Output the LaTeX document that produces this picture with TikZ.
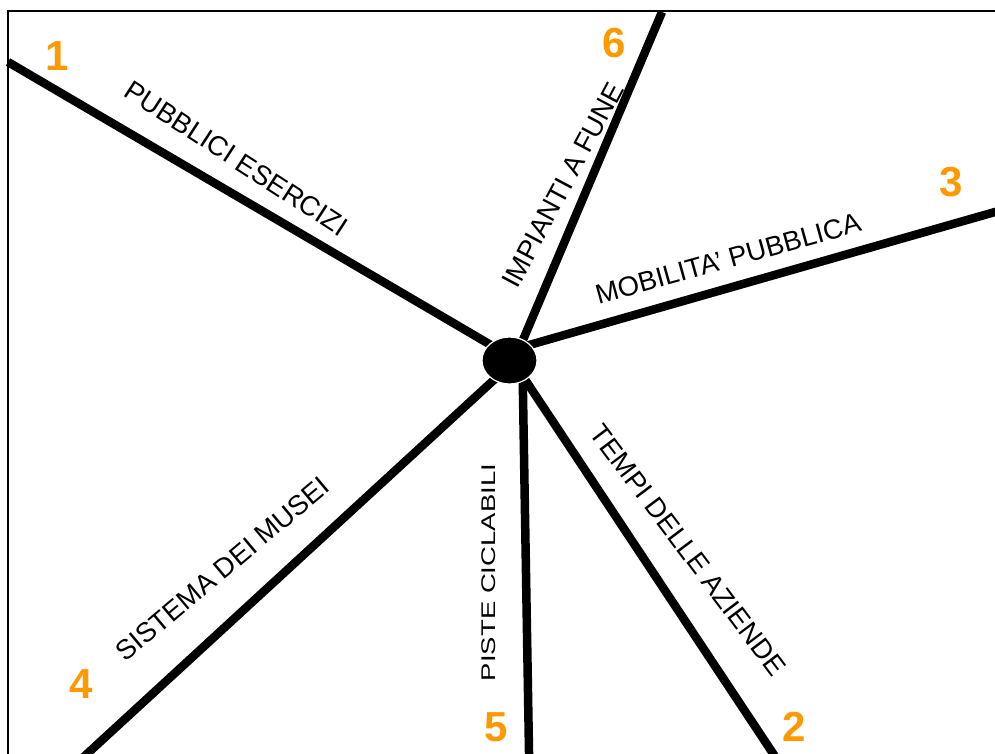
\documentclass[tikz,border=0pt]{standalone}
\usepackage{fontspec}
\setmainfont{Liberation Sans}
\usetikzlibrary{shapes.geometric, backgrounds}
\definecolor{numorange}{HTML}{FF9900}
\begin{document}
\begin{tikzpicture}[x=1pt, y=-1pt,
    spoke/.style={line width=8.5pt, shorten >=-14pt},
    lbl/.style={inner sep=0pt, font=\fontsize{27.5}{30}\selectfont},
    num/.style={inner sep=0pt, text=numorange, font=\fontsize{42}{46}\selectfont\bfseries}]
  \useasboundingbox (0,0) rectangle (995,753);
  \draw[line width=2.5pt] (8,11) rectangle (1010,770);
  \node[ellipse, fill=black, draw=white, line width=1.2pt, minimum width=55pt,
        minimum height=47pt, inner sep=0pt] (hub) at (509.5,360.5) {};
  % outer ends of the spokes
  \coordinate (e1) at (8,62);
  \coordinate (e6) at (662,12);
  \coordinate (e3) at (1010,207.7);
  \coordinate (e4) at (69.5,770);
  \coordinate (e5) at (529.3,770);
  \coordinate (e2) at (784,770);
  \begin{scope}[on background layer]
    \draw[spoke] (e1) -- (hub.141);
    \draw[spoke] (e6) -- (hub.57);
    \draw[spoke] (e3) -- (hub.37);
    \draw[spoke] (e4) -- (hub.-129);
    \draw[spoke] (e2) -- (hub.-51);
    \draw[spoke] (e5) -- (hub.-58);
  \end{scope}
  % labels
  \node[lbl, rotate=-33] (l1) at (236.5,158.5) {PUBBLICI ESERCIZI};
  \node[lbl, rotate=62] (l6) at (563,185) {IMPIANTI A FUNE};
  \node[lbl, rotate=15.5] (l3) at (728,258.5) {MOBILITA’ PUBBLICA};
  \node[lbl, rotate=40] (l4) at (222.5,569) {SISTEMA DEI MUSEI};
  \node[lbl, rotate=90, yscale=0.72] (l5) at (488.5,572.5) {PISTE CICLABILI};
  \node[lbl, rotate=-53] (l2) at (688,550) {TEMPI DELLE AZIENDE};
  % numbers
  \node[num] (n1) at (57,56) {1};
  \node[num] (n6) at (614,43) {6};
  \node[num] (n3) at (951,182) {3};
  \node[num] (n4) at (81,684) {4};
  \node[num] (n5) at (496,727) {5};
  \node[num] (n2) at (794,727) {2};
\end{tikzpicture}
\end{document}
